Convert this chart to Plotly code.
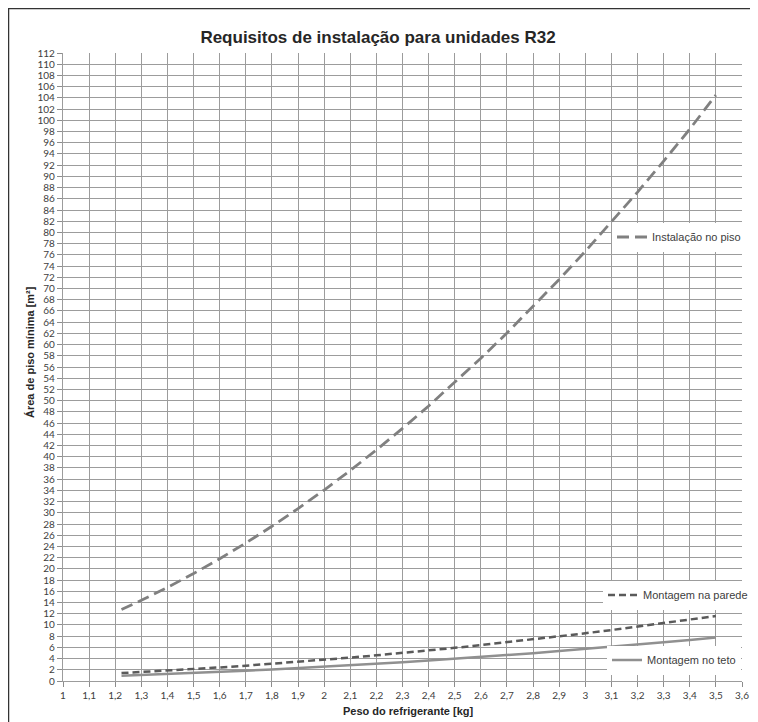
import plotly.graph_objects as go

# Refrigerant weight [kg]
peso = [1.224, 1.3, 1.4, 1.5, 1.6, 1.7, 1.8, 1.9, 2.0, 2.1, 2.2, 2.3, 2.4,
        2.5, 2.6, 2.7, 2.8, 2.9, 3.0, 3.1, 3.2, 3.3, 3.4, 3.5]

# Minimum floor area [m²]
area_piso = [12.76, 14.39, 16.69, 19.16, 21.80, 24.61, 27.59, 30.74, 34.06,
             37.55, 41.21, 45.04, 49.05, 53.22, 57.56, 62.07, 66.76, 71.61,
             76.63, 81.83, 87.19, 92.72, 98.43, 104.5]
area_parede = [1.42, 1.60, 1.85, 2.13, 2.42, 2.73, 3.07, 3.42, 3.78, 4.17,
               4.58, 5.00, 5.45, 5.91, 6.40, 6.90, 7.42, 7.96, 8.51, 9.09,
               9.69, 10.30, 10.94, 11.59]
area_teto = [0.95, 1.07, 1.24, 1.43, 1.62, 1.83, 2.05, 2.29, 2.53, 2.79,
             3.07, 3.35, 3.65, 3.96, 4.28, 4.62, 4.97, 5.33, 5.70, 6.09,
             6.49, 6.90, 7.32, 7.76]

x_ticks = [1.0, 1.1, 1.2, 1.3, 1.4, 1.5, 1.6, 1.7, 1.8, 1.9, 2.0, 2.1, 2.2,
           2.3, 2.4, 2.5, 2.6, 2.7, 2.8, 2.9, 3.0, 3.1, 3.2, 3.3, 3.4, 3.5, 3.6]
x_labels = ["1", "1,1", "1,2", "1,3", "1,4", "1,5", "1,6", "1,7", "1,8", "1,9",
            "2", "2,1", "2,2", "2,3", "2,4", "2,5", "2,6", "2,7", "2,8", "2,9",
            "3", "3,1", "3,2", "3,3", "3,4", "3,5", "3,6"]
y_ticks = list(range(0, 113, 2))

title = "Requisitos de instalação para unidades R32"
x_title = "Peso do refrigerante [kg]"
y_title = "Área de piso mínima [m²]"

label_font = dict(family="Liberation Sans, Arial, sans-serif", size=11, color="#404040")
tick_font = dict(family="Lato, Open Sans, sans-serif", size=10, color="#404040")

# figure is drawn at an 8px page offset; geometry below is in figure pixels
W, H = 758, 722
L, R, T, B = 55, 734, 45, 673   # plot area edges
PW, PH = R - L, B - T


def px(xp):
    return (xp - L) / PW


def py(yp):
    return (B - yp) / PH


fig = go.Figure()
fig.add_trace(go.Scatter(
    x=peso, y=area_piso, mode="lines", name="Instalação no piso",
    line=dict(color="#808080", width=2.8, dash="12px,6px"),
    legend="legend"))
fig.add_trace(go.Scatter(
    x=peso, y=area_parede, mode="lines", name="Montagem na parede",
    line=dict(color="#5a5a5a", width=2.5, dash="7px,4px"),
    legend="legend2"))
fig.add_trace(go.Scatter(
    x=peso, y=area_teto, mode="lines", name="Montagem no teto",
    line=dict(color="#909090", width=2.5),
    legend="legend3"))

legend_common = dict(bgcolor="white", borderwidth=0, font=label_font,
                     xanchor="right", yanchor="middle", itemwidth=30,
                     tracegroupgap=0)

fig.update_layout(
    width=W, height=H,
    margin=dict(l=L, r=W - R, t=T, b=H - B),
    paper_bgcolor="white", plot_bgcolor="white",
    title=dict(text="<b>" + title + "</b>", x=370 / W, xanchor="center",
               y=1 - 29 / H, yanchor="middle",
               font=dict(family="Liberation Sans, Arial", size=17, color="#262626")),
    showlegend=True,
    legend=dict(x=px(738), y=py(229), **legend_common),
    legend2=dict(x=px(745), y=py(587), **legend_common),
    legend3=dict(x=px(733), y=py(652), **legend_common),
    xaxis=dict(range=[1, 3.6], tickmode="array", tickvals=x_ticks, ticktext=x_labels,
               showgrid=True, gridcolor="#9c9c9c", gridwidth=1.4,
               showline=True, linecolor="#9c9c9c", linewidth=1.4, mirror=False,
               ticks="outside", ticklen=5, tickcolor="#8c8c8c", tickwidth=1.2,
               tickfont=tick_font, zeroline=False, fixedrange=True),
    yaxis=dict(range=[0, 112], tickmode="array", tickvals=y_ticks,
               showgrid=True, gridcolor="#9c9c9c", gridwidth=1.4,
               showline=True, linecolor="#9c9c9c", linewidth=1.4,
               ticks="outside", ticklen=5, tickcolor="#8c8c8c", tickwidth=1.2,
               tickfont=tick_font, zeroline=False, fixedrange=True),
    annotations=[
        dict(text="<b>" + x_title + "</b>", xref="paper", yref="paper",
             x=px(400), y=py(703), xanchor="center", yanchor="middle",
             showarrow=False, font=dict(family="Liberation Sans, Arial", size=11, color="#262626")),
        dict(text="<b>" + y_title + "</b>", xref="paper", yref="paper",
             x=px(22), y=py(344), xanchor="center", yanchor="middle",
             textangle=-90, showarrow=False,
             font=dict(family="Liberation Sans, Arial", size=11, color="#262626")),
    ],
    shapes=[
        dict(type="rect", xref="paper", yref="paper",
             x0=px(0), x1=px(W + 10), y0=py(H + 10), y1=py(0),
             line=dict(color="#333333", width=2.5), fillcolor="rgba(0,0,0,0)",
             layer="above"),
    ],
)

fig.write_html(
    "out.html",
    config={"displayModeBar": False},
    post_script="document.documentElement.style.overflow='hidden';"
                "document.body.style.overflow='hidden';",
)
